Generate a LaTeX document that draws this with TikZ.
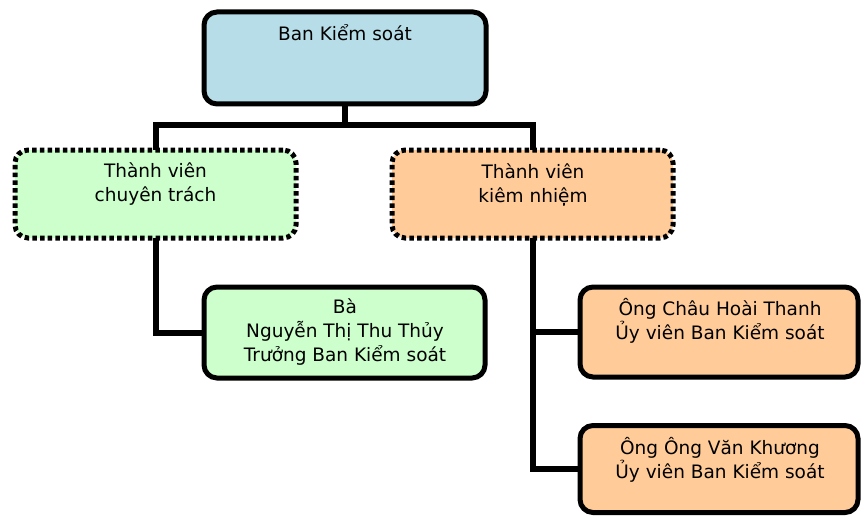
\documentclass[tikz,border=0pt]{standalone}
\usepackage{fontspec}
\setmainfont{DejaVu Sans}
\definecolor{topblue}{HTML}{B7DEE8}
\definecolor{lgreen}{HTML}{CCFFCC}
\definecolor{lorange}{HTML}{FFCC99}
\begin{document}
\begin{tikzpicture}[x=1pt,y=-1pt,
  box/.style={draw=black,line width=5pt,rounded corners=13pt,inner sep=0pt,outer sep=0pt,rectangle},
  dotbox/.style={box,dash pattern=on 4.5pt off 3.2pt},
  txt/.style={inner sep=0pt,align=center,font=\fontsize{18.5}{24}\selectfont},
  conn/.style={draw=black,line width=6pt}]
\useasboundingbox (0,0) rectangle (861,516);
% boxes
\node[box,fill=topblue,minimum width=282pt,minimum height=92pt] (top) at (345,58) {};
\node[dotbox,fill=lgreen,minimum width=281pt,minimum height=88pt] (g) at (155.5,194) {};
\node[dotbox,fill=lorange,minimum width=281pt,minimum height=88pt] (o) at (532.5,194) {};
\node[box,fill=lgreen,minimum width=281pt,minimum height=91pt] (gm) at (344.5,332.5) {};
\node[box,fill=lorange,minimum width=278pt,minimum height=90pt] (o1) at (719,332) {};
\node[box,fill=lorange,minimum width=278pt,minimum height=87pt] (o2) at (719,469) {};
% connectors
\coordinate (j) at (345,125);
\draw[conn] (top.south) -- (j);
\draw[conn] (g.north) |- (j) -| (o.north);
\draw[conn] (g.south) |- (gm.west);
\draw[conn] (o.south) |- (o1.west);
\draw[conn] (o.south) |- (o2.west);
% texts
\node[txt] (t0) at (345,33) {Ban Kiểm soát};
\node[txt] (t1) at (155.5,184.5) {Thành viên\\chuyên trách};
\node[txt] (t2) at (533,184.5) {Thành viên\\kiêm nhiệm};
\node[txt] (t3) at (345,332) {Bà\\Nguyễn Thị Thu Thủy\\Trưởng Ban Kiểm soát};
\node[txt] (t4) at (720,320.5) {Ông Châu Hoài Thanh\\Ủy viên Ban Kiểm soát};
\node[txt] (t5) at (720,460) {Ông Ông Văn Khương\\Ủy viên Ban Kiểm soát};
\end{tikzpicture}
\end{document}
